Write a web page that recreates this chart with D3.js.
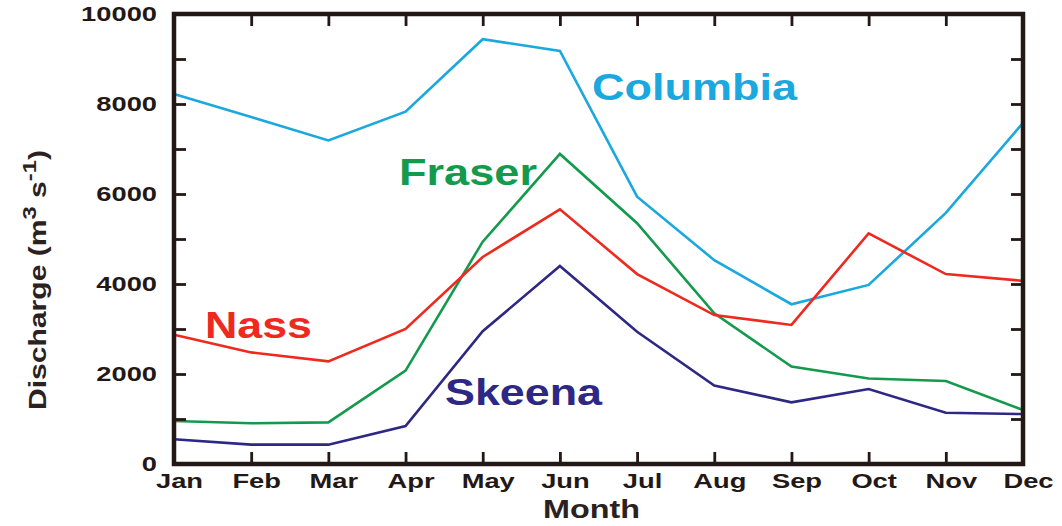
<!DOCTYPE html>
<html>
<head>
<meta charset="utf-8">
<script src="https://cdn.jsdelivr.net/npm/d3@7"></script>
<style>
  body { margin: 0; background: #fff; }
  svg { display: block; font-family: "Liberation Sans", Arial, sans-serif; font-weight: bold; }
</style>
</head>
<body>
<svg id="chart"></svg>
<script>
const months = ["Jan", "Feb", "Mar", "Apr", "May", "Jun", "Jul", "Aug", "Sep", "Oct", "Nov", "Dec"];
const columbia = [8220, 7710, 7190, 7830, 9440, 9180, 5940, 4530, 3550, 3980, 5580, 7580];
const fraser = [955, 905, 925, 2075, 4940, 6890, 5350, 3350, 2165, 1900, 1845, 1200];
const nass = [2870, 2480, 2280, 3000, 4600, 5660, 4220, 3310, 3090, 5125, 4220, 4070];
const skeena = [550, 430, 430, 845, 2950, 4400, 2940, 1745, 1370, 1667, 1140, 1110];
const yTicks = d3.range(0, 10001, 1000);

(function () {
  const width = 1062, height = 526;
  const left = 174, right = 1023, top = 14, bottom = 464;
  const ink = "#231815";
  const stretch = 1.3;

  const svg = d3.select("#chart").attr("width", width).attr("height", height);

  const x = d3.scaleLinear().domain([0, 11]).range([left, right]);
  const y = d3.scaleLinear().domain([0, 10000]).range([bottom, top]);

  // widen text like the original figure
  function widen(sel, k) {
    sel.each(function () {
      const w = this.getComputedTextLength();
      d3.select(this).attr("textLength", w * (k || stretch)).attr("lengthAdjust", "spacingAndGlyphs");
    });
  }

  const series = [
    { name: "Columbia", values: columbia, color: "#1aa8de", lx: 5.416, ly: 8090, w: 205 },
    { name: "Fraser", values: fraser, color: "#139a4c", lx: 2.915, ly: 6200, w: 138 },
    { name: "Nass", values: nass, color: "#ee2a1f", lx: 0.402, ly: 2800, w: 107 },
    { name: "Skeena", values: skeena, color: "#2e2885", lx: 3.511, ly: 1311, w: 157 }
  ];

  const line = d3.line().x((d, i) => x(i)).y(d => y(d));

  svg.selectAll("path.series")
    .data(series)
    .join("path")
    .attr("class", "series")
    .attr("fill", "none")
    .attr("stroke", d => d.color)
    .attr("stroke-width", 2.6)
    .attr("stroke-linejoin", "miter")
    .attr("d", d => line(d.values));

  svg.selectAll("text.series-label")
    .data(series)
    .join("text")
    .attr("class", "series-label")
    .attr("x", d => x(d.lx))
    .attr("y", d => y(d.ly))
    .attr("fill", d => d.color)
    .attr("font-size", 37)
    .attr("textLength", d => d.w)
    .attr("lengthAdjust", "spacingAndGlyphs")
    .text(d => d.name);

  // axes, ticks pointing inward
  const gLeft = svg.append("g").attr("transform", `translate(${left},0)`)
    .call(d3.axisLeft(y).tickValues(yTicks).tickFormat(d => d % 2000 === 0 ? d : "")
      .tickSizeInner(-12).tickSizeOuter(0).tickPadding(17));
  const gRight = svg.append("g").attr("transform", `translate(${right},0)`)
    .call(d3.axisRight(y).tickValues(yTicks).tickFormat("").tickSizeInner(-12).tickSizeOuter(0));
  const gBottom = svg.append("g").attr("transform", `translate(0,${bottom})`)
    .call(d3.axisBottom(x).tickValues(d3.range(12)).tickFormat(i => months[i])
      .tickSizeInner(-12).tickSizeOuter(0).tickPadding(9));
  const gTop = svg.append("g").attr("transform", `translate(0,${top})`)
    .call(d3.axisTop(x).tickValues(d3.range(12)).tickFormat("").tickSizeInner(-12).tickSizeOuter(0));

  [gLeft, gRight, gBottom, gTop].forEach(g => {
    g.select(".domain").remove();
    g.selectAll(".tick line").attr("stroke", ink).attr("stroke-width", 2.8);
    g.selectAll(".tick text").attr("fill", ink).attr("font-size", 21)
      .attr("font-family", "Liberation Sans, Arial, sans-serif").attr("font-weight", "bold");
  });
  gLeft.selectAll(".tick text").call(widen);
  gBottom.selectAll(".tick text").attr("dx", 5).call(widen);

  svg.append("rect")
    .attr("x", left).attr("y", top)
    .attr("width", right - left).attr("height", bottom - top)
    .attr("fill", "none").attr("stroke", ink).attr("stroke-width", 4.5);

  svg.append("text")
    .attr("x", (left + right) / 2 - 7)
    .attr("y", 518)
    .attr("text-anchor", "middle")
    .attr("fill", "#2b2220")
    .attr("font-size", 25)
    .attr("textLength", 97)
    .attr("lengthAdjust", "spacingAndGlyphs")
    .text("Month");

  const yl = svg.append("text")
    .attr("transform", "translate(46,280) rotate(-90)")
    .attr("text-anchor", "middle")
    .attr("fill", "#2b2220")
    .attr("font-size", 24);
  yl.append("tspan").text("Discharge (m");
  yl.append("tspan").attr("dy", -10).attr("font-size", 19).text("3");
  yl.append("tspan").attr("dy", 10).text(" s");
  yl.append("tspan").attr("dy", -10).attr("font-size", 19).text("-1");
  yl.append("tspan").attr("dy", 10).text(")");
  yl.attr("textLength", 260).attr("lengthAdjust", "spacingAndGlyphs");
})();
</script>
</body>
</html>
